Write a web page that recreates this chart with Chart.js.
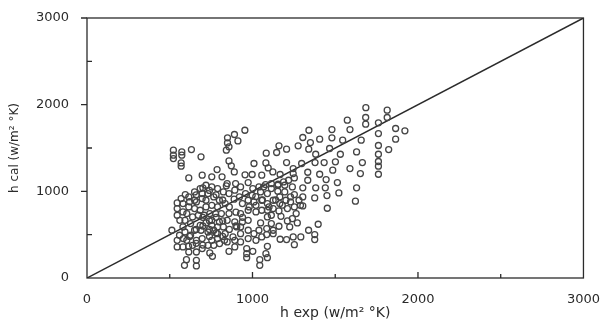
<!DOCTYPE html>
<html>
<head>
<meta charset="utf-8">
<script src="https://cdn.jsdelivr.net/npm/chart.js@4"></script>
<style>
  html, body { margin: 0; padding: 0; background: #fff; }
  #wrap { width: 606px; height: 322px; }
</style>
</head>
<body>
<div id="wrap"><canvas id="myChart" width="606" height="322"></canvas></div>
<script>
// values (w/m2 K)
var hExp = [
  1685, 1814, 1684, 1814, 1684, 1761, 1573, 1865, 1921, 1341, 1480, 1589, 1304, 1406, 1480, 1545,
  1657, 1761, 1865, 1350, 1276, 1466, 1761, 1823, 1340, 1382, 1531, 1629, 1761, 1378, 1433, 1501,
  1589, 1664, 1761, 1761, 1761, 1297, 1334, 1406, 1485, 1652, 1445, 1513, 1334, 1382, 1440, 1629,
  1522, 1450, 1622, 1452, 1304, 1304, 1376,
  954, 891, 912, 849, 849, 858, 842, 1160, 1146, 1083, 1206, 1206, 1081, 1009, 858, 872,
  786, 890, 955, 998, 1056, 1095, 1123, 1167, 1246, 1246, 1253, 1218, 1188, 1155, 1114, 1079,
  1039, 1002, 974, 898, 842, 816, 754, 696, 615, 689, 631, 573, 573, 569, 569, 522, 522, 522,
  594, 545, 545, 545, 561, 513, 559, 582, 614, 601, 589, 661, 661, 742, 758, 858, 965, 965,
  1002, 965, 1044, 1044, 1081, 1090, 1090, 1167, 1206, 1246, 1253, 1292, 1376, 1376, 1339, 1397,
  1271, 1241, 1211, 1225, 1172, 1160, 1125, 1125, 1086, 1086, 1049, 1039, 1009, 974, 928, 928,
  893, 882, 893, 835, 831, 789, 789, 754, 731, 696, 661, 638, 626, 592, 650, 689, 731, 766,
  719, 754, 800, 847, 858, 928, 974, 1021, 1021, 1056, 1090, 1125, 1125, 1165, 1165, 1160, 1202,
  1230, 1230, 1253, 1290, 1211, 1304, 1264, 1241, 1195, 1153, 1090, 1049, 998, 958, 921, 889,
  858, 824, 789, 754, 719, 684, 650, 615, 661, 696, 731, 766, 800, 835, 789, 754, 719, 684,
  650, 615, 580, 603, 638, 673, 708, 742, 777, 812, 824, 789, 754, 684, 626, 580, 592, 580,
  696, 661, 766, 801, 847, 893, 928, 974, 1021, 1056, 1114, 1090, 974, 939, 905, 603, 580, 615,
  545, 545, 1056, 1090, 1114, 939, 974, 1009, 1067, 1114, 1153, 1253, 1195, 1281, 847, 893,
  928, 696, 569, 650, 719,
  620, 660, 700, 740, 780, 820, 860, 900, 700, 740, 780, 820, 660, 700, 740, 780,
  820, 860, 900, 940, 980, 1020, 1060, 1100, 1140, 1180, 620, 660, 700, 740
];
var hCal = [
  1965, 1937, 1852, 1852, 1775, 1790, 1821, 1725, 1698, 1705, 1713, 1713, 1621, 1602, 1617, 1590,
  1590, 1667, 1602, 1563, 1525, 1494, 1529, 1482, 1486, 1428, 1428, 1455, 1428, 1332, 1332, 1340,
  1263, 1332, 1344, 1290, 1197, 1321, 1220, 1197, 1244, 1205, 1136, 1101, 1128, 1040, 1040, 1040,
  982, 951, 886, 805, 1040, 936, 924,
  1705, 1656, 1582, 1617, 1559, 1513, 1475, 1525, 1448, 1440, 1486, 1332, 1328, 1321, 1351, 1294,
  1251, 1224, 1190, 1194, 1186, 1270, 1224, 1194, 1205, 1263, 1155, 1128, 1109, 1082, 1032, 1078,
  1051, 1032, 1101, 1090, 1063, 1167, 1167, 1186, 1155, 1398, 1482, 1455, 1417, 1328, 1290, 1475, 1417, 1378,
  963, 866, 801, 724, 666, 551, 493, 455, 366, 212, 146, 204, 139, 289, 250, 308, 339, 281,
  308, 235, 212, 146, 281, 235, 366, 447, 443, 474, 385, 474, 501, 443, 551, 620,
  635, 685, 658, 589, 712, 597, 551, 512, 501, 570, 635, 551, 512, 551, 512, 589,
  647, 474, 435, 512, 435, 455, 512, 435, 377, 455, 435, 377, 493, 531, 551, 551, 531, 551,
  635, 666, 647, 666, 743, 743, 782, 762, 839, 897, 859, 897, 801, 936, 859, 774, 897,
  936, 878, 820, 839, 801, 832, 743, 1051, 993, 1001, 974, 993, 955, 974, 936, 909,
  974, 993, 1032, 1051, 1070, 1032, 993, 936, 878, 916, 974, 936, 897, 859, 820, 839, 820, 782,
  801, 820, 859, 743, 705, 724, 724, 743, 743, 743, 589, 589, 608, 608, 628, 589, 666, 762,
  339, 300, 377, 397, 416, 358, 416, 455, 435, 474, 628, 705, 666, 647, 589, 435, 358, 300,
  435, 358, 782, 782, 724, 859, 897, 878, 1051, 1090, 1070, 963, 1070, 897, 1090, 1013,
  1051, 974, 916, 897, 897,
  880, 960, 1040, 1010, 960, 900, 820, 760, 700, 660, 700, 660, 560, 600, 560, 520,
  480, 560, 600, 700, 820, 940, 900, 820, 900, 840, 480, 400, 380, 480
];
var xTicks = [0, 1000, 2000, 3000];
var yTicks = [0, 1000, 2000, 3000];
var diagX = [0, 3000];
var diagY = [0, 3000];

var ink = '#2b2b2b';

var points = hExp.map(function(v, i) { return { x: v, y: hCal[i] }; });
var diag = diagX.map(function(v, i) { return { x: v, y: diagY[i] }; });

// frame around the plot plus the small ticks of the original
var frameTicks = {
  id: 'frameTicks',
  afterDraw: function(chart) {
    var ctx = chart.ctx, a = chart.chartArea;
    var xs = chart.scales.x, ys = chart.scales.y;
    ctx.save();
    ctx.strokeStyle = ink;
    ctx.lineWidth = 1.3;
    ctx.strokeRect(a.left, a.top, a.right - a.left, a.bottom - a.top);
    ctx.beginPath();
    for (var v = 500; v < 3000; v += 500) {
      var px = xs.getPixelForValue(v);
      ctx.moveTo(px, a.bottom);
      ctx.lineTo(px, a.bottom - (v % 1000 ? 4 : 6));
      var py = ys.getPixelForValue(v);
      if (v % 1000) {
        ctx.moveTo(a.left, py);
        ctx.lineTo(a.left + 5, py);
      } else {
        ctx.moveTo(a.left, py);
        ctx.lineTo(a.left - 6, py);
      }
    }
    var top = ys.getPixelForValue(3000);
    ctx.moveTo(a.left, top);
    ctx.lineTo(a.left - 6, top);
    ctx.stroke();
    ctx.restore();
  }
};

var plain = function(v) { return String(v); };

var ctx = document.getElementById('myChart');
var myChart = new Chart(ctx, {
  type: 'scatter',
  data: {
    datasets: [
      {
        data: points,
        pointStyle: 'circle',
        pointRadius: 3,
        borderColor: '#454545',
        borderWidth: 1.3,
        backgroundColor: 'rgba(0,0,0,0)'
      },
      {
        type: 'line',
        data: diag,
        borderColor: ink,
        borderWidth: 1.5,
        pointRadius: 0,
        fill: false
      }
    ]
  },
  options: {
    responsive: false,
    animation: false,
    layout: { padding: { left: 8, right: 21, top: 18, bottom: 0 } },
    plugins: {
      legend: { display: false },
      tooltip: { enabled: false }
    },
    scales: {
      x: {
        type: 'linear',
        min: 0,
        max: 3000,
        afterBuildTicks: function(s) { s.ticks = xTicks.map(function(v) { return { value: v }; }); },
        afterFit: function(s) { s.height = 44; },
        grid: { display: false },
        border: { display: false },
        ticks: {
          color: ink,
          padding: 6,
          callback: plain,
          font: { family: 'DejaVu Sans', size: 13 }
        },
        title: {
          display: true,
          text: 'h exp (w/m² °K)',
          color: ink,
          padding: { top: 2, bottom: 0 },
          font: { family: 'DejaVu Sans', size: 14 }
        }
      },
      y: {
        type: 'linear',
        min: 0,
        max: 3000,
        afterBuildTicks: function(s) { s.ticks = yTicks.map(function(v) { return { value: v }; }); },
        afterFit: function(s) { s.width = 79; },
        grid: { display: false },
        border: { display: false },
        ticks: {
          color: ink,
          padding: 10,
          callback: plain,
          font: { family: 'DejaVu Sans', size: 13 }
        },
        title: {
          display: true,
          text: 'h cal (w/m² °K)',
          color: ink,
          padding: { top: 0, bottom: 2 },
          font: { family: 'DejaVu Sans', size: 12 }
        }
      }
    }
  },
  plugins: [frameTicks]
});
</script>
</body>
</html>
